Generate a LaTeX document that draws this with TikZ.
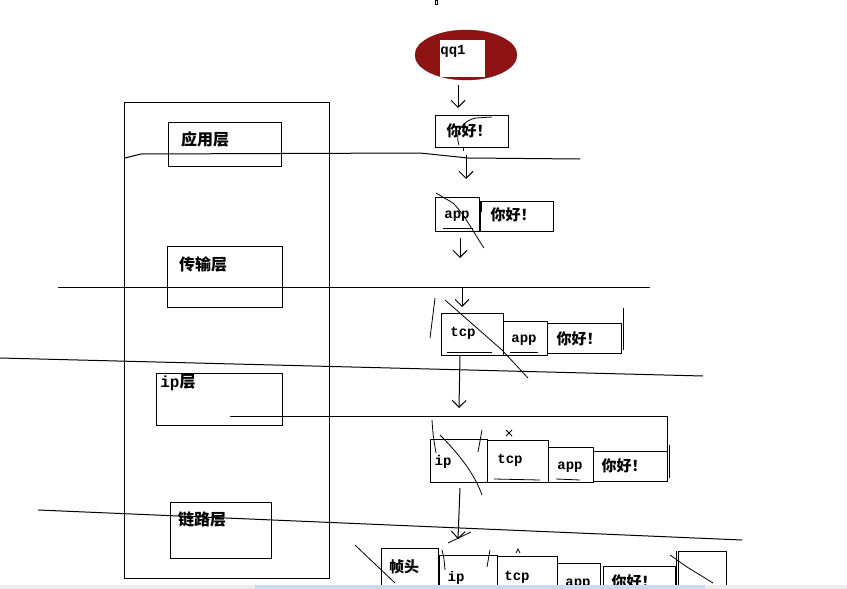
\documentclass[tikz,border=0pt]{standalone}
\usepackage{fontspec}
\newfontfamily\cjk{Noto Sans CJK SC}
\newfontfamily\mono{Liberation Mono}
\usetikzlibrary{shapes.geometric,arrows.meta}
\definecolor{ellred}{HTML}{8E1414}
\definecolor{stripgray}{HTML}{ECECEC}
\definecolor{stripblue}{HTML}{C9D9F1}
\tikzset{
  box/.style={draw, line width=1pt, inner sep=0pt, anchor=north west},
  cn/.style={font=\cjk\bfseries\fontsize{15}{15}\selectfont, inner sep=0pt, anchor=mid, yshift=-3.5pt},
  lay/.style={font=\cjk\bfseries\fontsize{16}{16}\selectfont, inner sep=0pt, anchor=mid, yshift=-3.5pt},
  en/.style={font=\mono\bfseries\fontsize{14}{14}\selectfont, inner sep=0pt, anchor=mid, yshift=-1.5pt},
  pen/.style={line width=1pt},
  scr/.style={line width=0.8pt},
  arr/.style={line width=1pt, -{Straight Barb[length=7pt,width=14pt]}}
}
\begin{document}
\begin{tikzpicture}[x=1pt,y=-1pt]
\useasboundingbox (0,0) rectangle (847,589);
\fill[white] (0,0) rectangle (847,589);
% top mark
\draw[line width=0.8pt] (435,0) rectangle (437,4);
% left stack
\node[box, minimum width=205pt, minimum height=476pt] (stack) at (124,102) {};
\node[box, minimum width=113pt, minimum height=44pt] (app) at (168,122) {};
\node[lay] (appt) at (205,140) {应用层};
\node[box, minimum width=115pt, minimum height=61pt] (trans) at (167,246) {};
\node[lay] (transt) at (203,265) {传输层};
\node[box, minimum width=126pt, minimum height=52pt] (ipl) at (156,373) {};
\node[lay] (iplt) at (178,382) {{\mono\bfseries ip}层};
\node[box, minimum width=101pt, minimum height=56pt] (link) at (170,502) {};
\node[lay] (linkt) at (202,520) {链路层};
% qq1
\node[ellipse, fill=ellred, draw=ellred!80!black, minimum width=102pt, minimum height=50pt, inner sep=0pt] (qq) at (466,55) {};
\node[fill=white, inner sep=0pt, anchor=north west, minimum width=45pt, minimum height=37pt] (qqw) at (440,40) {};
\node[en] (qqt) at (453,51) {qq1};
% row 1
\node[box, minimum width=73pt, minimum height=32pt] (r1n) at (435,115) {};
\node[cn] (r1nt) at (469,131) {你好！};
% row 2
\node[box, minimum width=44pt, minimum height=34pt] (r2a) at (435,197) {};
\node[en] (r2at) at (457,215) {app};
\node[box, minimum width=73pt, minimum height=30pt] (r2n) at (480,201) {};
\node[cn] (r2nt) at (513,215) {你好！};
% row 3
\node[box, minimum width=62pt, minimum height=42pt] (r3t) at (441,313) {};
\node[en] (r3tt) at (463,333) {tcp};
\node[box, minimum width=44pt, minimum height=34pt] (r3a) at (503,321) {};
\node[en] (r3at) at (524,339) {app};
\node[box, minimum width=74pt, minimum height=30pt] (r3n) at (547,323) {};
\node[cn] (r3nt) at (579,339) {你好！};
% row 4
\node[box, minimum width=57pt, minimum height=43pt] (r4i) at (430,439) {};
\node[en] (r4it) at (443,462) {ip};
\node[box, minimum width=61pt, minimum height=42pt] (r4t) at (487,440) {};
\node[en] (r4tt) at (510,460) {tcp};
\node[box, minimum width=45pt, minimum height=35pt] (r4a) at (548,447) {};
\node[en] (r4at) at (570,466) {app};
\node[box, minimum width=74pt, minimum height=30pt] (r4n) at (593,451) {};
\node[cn] (r4nt) at (624,466) {你好！};
% row 5
\node[box, minimum width=57pt, minimum height=60pt] (r5h) at (381,548) {};
\node[cn] (r5ht) at (404,567) {帧头};
\node[box, minimum width=58pt, minimum height=50pt] (r5i) at (439,555) {};
\node[en] (r5it) at (456,578) {ip};
\node[box, minimum width=60pt, minimum height=50pt] (r5t) at (497,556) {};
\node[en] (r5tt) at (517,577) {tcp};
\node[box, minimum width=43pt, minimum height=40pt] (r5a) at (557,563) {};
\node[en] (r5at) at (578,583) {app};
\node[box, minimum width=72pt, minimum height=40pt] (r5n) at (603,566) {};
\node[cn] (r5nt) at (634,582) {你好！};
\node[box, minimum width=48pt, minimum height=50pt] (r5f) at (678,551) {};
\draw[pen] (676,551) -- (676,589);
% layer divider lines
\draw[pen] (125,158) -- (141,154) -- (420,153) -- (468,158) -- (580,159);
\draw[pen] (58,287) -- (650,287);
\draw[pen] (0,358) -- (703,376);
\draw[pen] (230,416) -- (667,416) -- (667,478);
\draw[pen] (669,445) -- (669,478);
\draw[pen] (38,510) -- (742,540);
% arrows
\coordinate (a1s) at (458,85);  \coordinate (a1e) at (458,108);
\coordinate (a2s) at (466,155); \coordinate (a2e) at (466,179);
\coordinate (a3s) at (460,238); \coordinate (a3e) at (460,258);
\coordinate (a4s) at (462,288); \coordinate (a4e) at (462,307);
\coordinate (a5s) at (460,355); \coordinate (a5e) at (459,408);
\coordinate (a6s) at (460,488); \coordinate (a6e) at (458,539);
\draw[arr] (a1s) -- (a1e);
\draw[arr] (a2s) -- (a2e);
\draw[arr] (a3s) -- (a3e);
\draw[arr] (a4s) -- (a4e);
\draw[arr] (a5s) -- (a5e);
\draw[arr] (a6s) -- (a6e);
\draw[scr] (448,543) -- (471,532);
% small ticks and doubled edges
\draw[scr] (463,148) -- (463,151);
\draw[pen] (481,201) -- (481,212);
\draw[pen] (547,321) -- (547,331);
\draw[pen] (593,447) -- (593,480);
\draw[pen] (600,563) -- (600,574);
\draw[scr] (443,228) -- (473,228);
\draw[scr] (447,352) -- (492,352);
\draw[scr] (510,352) -- (538,352);
\draw[scr] (494,479) -- (540,480);
\draw[scr] (556,479) -- (580,480);
% scribbles
\draw[scr] (459,145) .. controls (454,132) and (464,120) .. (476,118) -- (492,117);
\draw[scr] (436,193) -- (453,203) .. controls (465,215) and (475,235) .. (484,248);
\draw[scr] (435,298) -- (430,338);
\draw[scr] (445,300) -- (502,350) -- (528,378);
\draw[pen] (623,308) -- (623,350);
\draw[scr] (432,420) .. controls (433,435) .. (436,453);
\draw[scr] (440,435) .. controls (460,455) and (475,475) .. (482,495);
\draw[scr] (482,430) -- (478,452);
\draw[scr] (506,430) -- (512,436) (512,430) -- (506,436);
\draw[scr] (355,545) -- (395,583);
\draw[scr] (670,555) -- (687,567) -- (713,583);
\draw[scr] (442,550) .. controls (444,558) .. (445,570);
\draw[scr] (490,550) -- (487,567);
\draw[scr] (516,553) -- (518,549) -- (520,553);
% bottom strip
\fill[stripgray] (0,585) rectangle (847,589);
\fill[stripblue] (255,585) rectangle (705,589);
\end{tikzpicture}
\end{document}
